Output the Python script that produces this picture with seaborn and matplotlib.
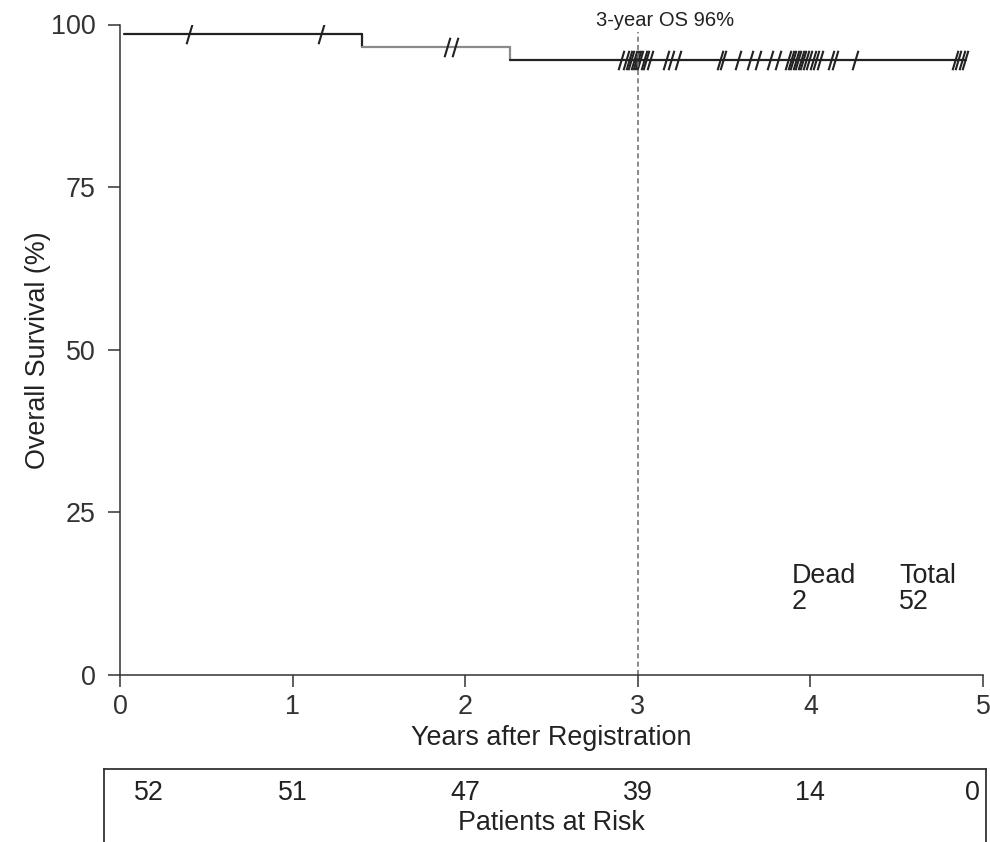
import numpy as np
import pandas as pd
import matplotlib
matplotlib.use('Agg')
import matplotlib.pyplot as plt
from matplotlib.path import Path
import seaborn as sns

# Kaplan-Meier step data
step_times = [0.025, 1.40, 2.26]
step_surv = [98.6, 96.6, 94.6]
step_colors = ['#222222', '#8a8a8a', '#222222']
end_time = 4.90

# censored observations (years)
censor_times = [0.40, 1.166, 1.897, 1.943,
                2.904, 2.929, 2.948, 2.962, 2.976, 2.987, 3.001, 3.014, 3.034,
                3.049, 3.068, 3.165, 3.194, 3.233, 3.474, 3.494, 3.581, 3.649,
                3.697, 3.765, 3.813, 3.871, 3.885, 3.900, 3.915, 3.929, 3.943,
                3.958, 3.977, 3.993, 4.016, 4.035, 4.054, 4.122, 4.142, 4.258,
                4.838, 4.857, 4.877, 4.896]

risk_times = [0, 1, 2, 3, 4, 5]
at_risk = [52, 51, 47, 39, 14, 0]

dead = 2
total = 52
os3_label = '3-year OS 96%'

sns.set_theme(style='ticks')
plt.rcParams['font.family'] = ['Liberation Sans', 'DejaVu Sans']
plt.rcParams['text.color'] = '#222222'
plt.rcParams['axes.labelcolor'] = '#222222'
plt.rcParams['xtick.color'] = '#333333'
plt.rcParams['ytick.color'] = '#333333'

fig = plt.figure(figsize=(9.9, 8.42), dpi=100)
ax = fig.add_axes([120/990, 1-675/842, 863/990, (675-24.5)/842])

# curve, one piece per level so the middle one can be grey
for i in range(len(step_times)):
    t0 = step_times[i]
    t1 = step_times[i+1] if i+1 < len(step_times) else end_time
    seg = pd.DataFrame({'t': [t0, t1], 's': [step_surv[i], step_surv[i]]})
    sns.lineplot(data=seg, x='t', y='s', ax=ax, color=step_colors[i], lw=1.6,
                 estimator=None)
    if i+1 < len(step_times):
        drop = pd.DataFrame({'t': [t1, t1], 's': [step_surv[i], step_surv[i+1]]})
        sns.lineplot(data=drop, x='t', y='s', ax=ax, color=step_colors[i], lw=1.6,
                     estimator=None, sort=False)

# censor ticks
idx = np.searchsorted(step_times, censor_times, side='right') - 1
cens_surv = np.array(step_surv)[idx]
slash = Path([(-0.3, -1), (0.3, 1)], [Path.MOVETO, Path.LINETO])
ax.plot(censor_times, cens_surv, linestyle='none', marker=slash, ms=14,
        mew=1.5, color='#222222')

ax.plot([3, 3], [0, 98.8], ls=(0, (3, 2)), color='#777777', lw=1.2)
ax.text(2.76, 99.7, os3_label, fontsize=14.5, ha='left', va='baseline',
        clip_on=False)

ax.text(3.89, 14.1, 'Dead', fontsize=19.4, va='baseline')
ax.text(3.89, 10.2, str(dead), fontsize=19.4, va='baseline')
ax.text(4.513, 14.1, 'Total', fontsize=19.4, va='baseline')
ax.text(4.513, 10.2, str(total), fontsize=19.4, va='baseline')

ax.set_xlim(0, 5)
ax.set_ylim(0, 100)
ax.set_xticks(range(6))
ax.set_yticks([0, 25, 50, 75, 100])
ax.tick_params(axis='both', labelsize=19.4, length=8.5, width=1.1)
ax.tick_params(axis='x', pad=5.5)
ax.tick_params(axis='y', pad=9)
ax.set_xlabel('Years after Registration', fontsize=19.4, labelpad=3.5)
ax.set_ylabel('Overall Survival (%)', fontsize=19.4, labelpad=0)
for side in ['top', 'right']:
    ax.spines[side].set_visible(False)
for side in ['left', 'bottom']:
    ax.spines[side].set_linewidth(1.1)
    ax.spines[side].set_color('#333333')

# patients at risk box
box_top = 769
tab = fig.add_axes([104/990, 1-860/842, 882/990, (860-box_top)/842])
tab.set_xlim((104-120)/172.6, (986-120)/172.6)
tab.set_ylim(860, box_top)
tab.set_xticks([])
tab.set_yticks([])
for side in ['left', 'top', 'right']:
    tab.spines[side].set_linewidth(1.3)
    tab.spines[side].set_color('#333333')
tab.spines['bottom'].set_visible(False)
for i, (t, n) in enumerate(zip(risk_times, at_risk)):
    ha = 'center'
    x = t
    if i == 0:
        ha = 'left'
        x = t + 0.08
    elif i == len(risk_times) - 1:
        ha = 'right'
        x = t - 0.02
    tab.text(x, 793, str(n), fontsize=19.4, ha=ha, va='center')
tab.text(2.5, 823, 'Patients at Risk', fontsize=19.4, ha='center',
         va='center')

fig.savefig('out.png', dpi=100)
